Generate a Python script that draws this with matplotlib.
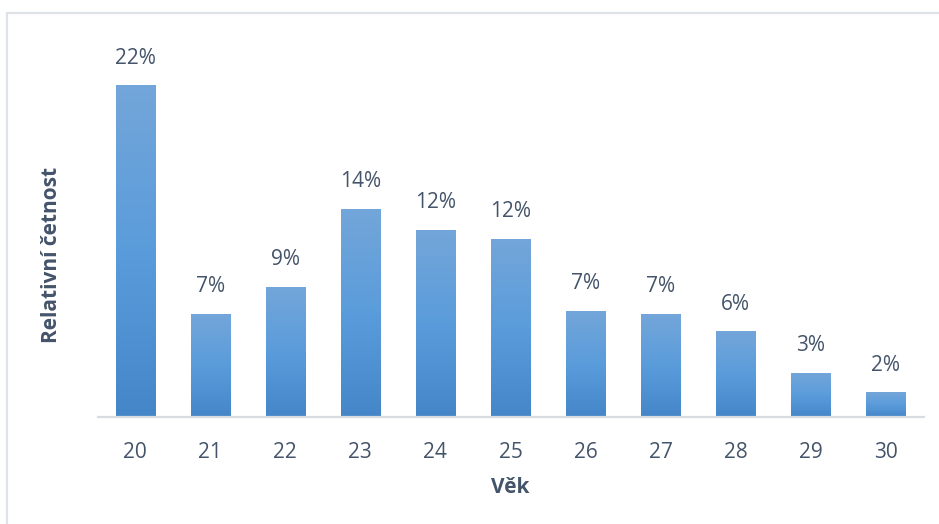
import numpy as np
import matplotlib
matplotlib.use("Agg")
import matplotlib.pyplot as plt
from matplotlib.colors import LinearSegmentedColormap
from matplotlib.patches import Rectangle

ages = ["20", "21", "22", "23", "24", "25", "26", "27", "28", "29", "30"]
rel_freq = [22.0, 6.8, 8.6, 13.8, 12.4, 11.8, 7.0, 6.8, 5.65, 2.9, 1.6]
x_label = "Věk"
y_label = "Relativní četnost"

W, H = 939, 524
fig = plt.figure(figsize=(W / 100, H / 100), dpi=100)
plt.rcParams["font.family"] = ["Open Sans", "DejaVu Sans"]
text_color = "#44546A"

# outer chart frame (top and left edges visible)
fig.patches.append(Rectangle((7 / W, -0.1), 1.2, 1.1 - 13 / H,
                             transform=fig.transFigure, fill=False,
                             edgecolor="#DEE2E9", linewidth=1.6))

left, right = 97.5, 923.5
base, top = 417, 30
ax = fig.add_axes([left / W, 1 - base / H, (right - left) / W, (base - top) / H])
px_per_unit = 15.05

cmap = LinearSegmentedColormap.from_list(
    "bar", ["#4486C8", "#5A9CDB", "#73A6D9"])
grad = np.linspace(0, 1, 256).reshape(-1, 1)
bar_w = 0.52
xs = np.arange(len(ages))
bars = ax.bar(xs, rel_freq, width=bar_w, color="none", edgecolor="none")
for b, v in zip(bars, rel_freq):
    x0 = b.get_x()
    ax.imshow(grad, cmap=cmap, origin="lower", aspect="auto",
              extent=(x0, x0 + bar_w, 0, v), zorder=2, interpolation="bilinear")
    ax.text(b.get_x() + bar_w / 2, v + 1.15, f"{v:.0f}%", ha="center",
            va="bottom", fontsize=15, color=text_color)

ax.set_xlim(-0.5, len(ages) - 0.5)
ax.set_ylim(0, (base - top) / px_per_unit)
for s in ["top", "right", "left"]:
    ax.spines[s].set_visible(False)
ax.spines["bottom"].set_color("#D9DDE3")
ax.spines["bottom"].set_linewidth(1.6)
ax.set_yticks([])
ax.set_xticks(xs)
ax.set_xticklabels(ages, fontsize=15, color=text_color)
ax.tick_params(axis="x", length=0, pad=18)
ax.set_xlabel(x_label, fontsize=15, fontweight="bold", color=text_color, labelpad=10)
fig.text(52 / W, 1 - 255 / H, y_label, rotation=90, ha="center", va="center",
         fontsize=15, fontweight="bold", color=text_color)

fig.savefig("out.png", dpi=100)
